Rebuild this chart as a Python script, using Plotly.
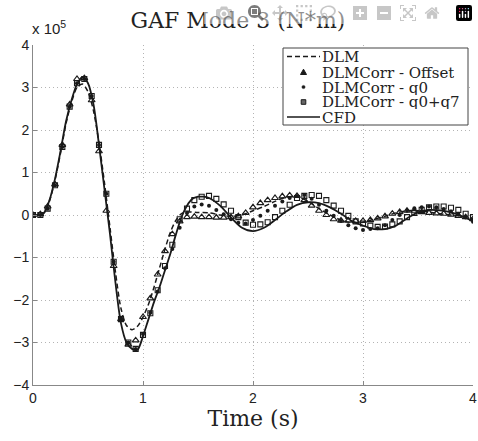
import plotly.graph_objects as go

# ---------------- data (values in units of 1e5 N*m) ----------------
cfd_t = [0, 0.05, 0.1, 0.15, 0.2, 0.25, 0.3, 0.35, 0.4, 0.45, 0.5, 0.55, 0.6, 0.65, 0.7, 0.75, 0.8,
         0.85, 0.9, 0.95, 1.0, 1.05, 1.1, 1.15, 1.2, 1.25, 1.3, 1.35, 1.4, 1.45, 1.5, 1.55, 1.6, 1.7,
         1.8, 1.9, 2.0, 2.1, 2.2, 2.3, 2.4, 2.5, 2.6, 2.7, 2.8, 2.9, 3.0, 3.1, 3.2, 3.3, 3.4, 3.5,
         3.6, 3.7, 3.8, 3.9, 4.0]
cfd_e5 = [0, 0, 0.05, 0.35, 0.85, 1.5, 2.2, 2.7, 3.08, 3.25, 3.1, 2.6, 1.65, 0.6, -0.45, -1.6, -2.55,
          -3.0, -3.15, -3.17, -2.85, -2.45, -2.05, -1.7, -1.3, -0.9, -0.45, -0.05, 0.22, 0.38, 0.43,
          0.43, 0.4, 0.22, -0.06, -0.3, -0.38, -0.3, -0.12, 0.08, 0.24, 0.3, 0.28, 0.18, 0.03, -0.14,
          -0.25, -0.33, -0.33, -0.25, -0.08, 0.06, 0.12, 0.11, 0.06, -0.03, -0.15]

dlm_t = [0, 0.05, 0.1, 0.15, 0.2, 0.25, 0.3, 0.35, 0.4, 0.45, 0.5, 0.55, 0.6, 0.65, 0.7, 0.75, 0.8,
         0.85, 0.9, 0.95, 1.0, 1.05, 1.1, 1.15, 1.2, 1.25, 1.3, 1.35, 1.4, 1.5, 1.6, 1.7, 1.8, 1.9,
         2.0, 2.1, 2.2, 2.3, 2.4, 2.5, 2.6, 2.7, 2.8, 2.9, 3.0, 3.1, 3.2, 3.3, 3.4, 3.5, 3.6, 3.7,
         3.8, 3.9, 4.0]
dlm_e5 = [0, 0, 0.05, 0.33, 0.82, 1.45, 2.15, 2.65, 3.0, 3.08, 2.9, 2.45, 1.7, 0.75, -0.3, -1.35,
          -2.2, -2.6, -2.7, -2.62, -2.4, -2.1, -1.7, -1.25, -0.8, -0.4, -0.12, 0.03, 0.07, 0.06,
          0.05, 0.0, -0.03, 0.0, 0.1, 0.2, 0.32, 0.42, 0.43, 0.32, 0.15, 0.0, -0.12, -0.18, -0.17,
          -0.1, -0.03, 0.05, 0.1, 0.1, 0.07, 0.03, 0.0, -0.03, -0.08]

# marker samples (time step 1/15 s)
mk_t = [k / 15 for k in range(61)]
offset_e5 = [0.0, 0.02, 0.2, 0.72, 1.65, 2.6, 3.2, 3.22, 2.7, 1.5, 0.1, -1.2, -2.45, -3.05, -2.95,
             -2.4, -1.96, -1.4, -0.85, -0.45, -0.15, -0.05, -0.04, -0.05, -0.05, -0.06, -0.06,
             -0.05, -0.03, 0.05, 0.18, 0.28, 0.35, 0.4, 0.44, 0.46, 0.45, 0.35, 0.22, 0.1, 0.0,
             -0.1, -0.13, -0.13, -0.14, -0.14, -0.12, -0.08, -0.03, 0.03, 0.07, 0.1, 0.1, 0.07,
             0.05, 0.04, 0.03, 0.01, -0.02, -0.05, -0.1]
q0_e5 = [0.0, 0.0, 0.15, 0.7, 1.6, 2.55, 3.1, 3.2, 2.8, 1.65, 0.5, -1.1, -2.45, -3.0, -3.15, -2.8,
         -2.3, -1.8, -1.25, -0.8, -0.3, 0.05, 0.2, 0.25, 0.22, 0.12, 0.02, -0.1, -0.18, -0.2,
         -0.12, -0.02, 0.1, 0.22, 0.32, 0.4, 0.45, 0.47, 0.38, 0.24, 0.1, -0.02, -0.14, -0.24,
         -0.31, -0.35, -0.33, -0.31, -0.24, -0.12, 0.0, 0.1, 0.16, 0.18, 0.2, 0.18, 0.14, 0.08,
         0.02, -0.06, -0.16]
q0q7_e5 = [0.0, 0.0, 0.15, 0.7, 1.6, 2.55, 3.1, 3.2, 2.8, 1.65, 0.5, -1.1, -2.45, -3.0, -3.15, -2.82,
           -2.31, -1.77, -1.2, -0.7, -0.1, 0.15, 0.35, 0.43, 0.45, 0.38, 0.25, 0.1, -0.05, -0.18,
           -0.23, -0.22, -0.17, -0.05, 0.1, 0.24, 0.4, 0.45, 0.47, 0.45, 0.35, 0.22, 0.1, -0.02,
           -0.15, -0.2, -0.25, -0.28, -0.27, -0.22, -0.15, -0.05, 0.05, 0.12, 0.18, 0.2, 0.2, 0.17,
           0.12, 0.03, -0.05]

series_names = ["DLM", "DLMCorr - Offset", "DLMCorr - q0", "DLMCorr - q0+q7", "CFD"]
x_ticks = [0, 1, 2, 3, 4]
y_ticks = [-4, -3, -2, -1, 0, 1, 2, 3, 4]

# ---------------- figure ----------------
W, H = 478, 441
ML, MR, MT, MB = 33, 5, 45, 56
PW, PH = W - ML - MR, H - MT - MB
ink = "#1a1a1a"
serif = "DejaVu Serif, Liberation Serif, serif"
sans = "Liberation Sans, Arial, sans-serif"

fig = go.Figure()
fig.add_trace(go.Scatter(x=dlm_t, y=dlm_e5, mode="lines", name=series_names[0],
                         line=dict(color=ink, width=1.5, dash="5px,3px", shape="spline", smoothing=0.8)))
fig.add_trace(go.Scatter(x=mk_t, y=offset_e5, mode="markers", name=series_names[1],
                         marker=dict(symbol="triangle-up-open", size=6, color=ink, line=dict(width=1.2))))
fig.add_trace(go.Scatter(x=mk_t, y=q0_e5, mode="markers", name=series_names[2],
                         marker=dict(symbol="circle", size=4, color=ink)))
fig.add_trace(go.Scatter(x=mk_t, y=q0q7_e5, mode="markers", name=series_names[3],
                         marker=dict(symbol="square-open", size=5, color=ink, line=dict(width=1.1))))
fig.add_trace(go.Scatter(x=cfd_t, y=cfd_e5, mode="lines", name=series_names[4],
                         line=dict(color=ink, width=1.8, shape="spline", smoothing=0.8)))

axis_common = dict(
    showgrid=True, gridcolor="#b4b4b4", griddash="1px,3px", gridwidth=1,
    zeroline=False, showline=True, linecolor="#888888", linewidth=1,
    ticks="inside", ticklen=4, tickcolor="#888888", automargin=False,
    ticklabeloverflow="allow",
    tickfont=dict(family=sans, size=14, color="#222222"),
)

fig.update_layout(
    width=W, height=H,
    margin=dict(l=ML, r=MR, t=MT, b=MB, autoexpand=False),
    paper_bgcolor="white", plot_bgcolor="white",
    title=dict(text="GAF Mode 3 (N*m)", x=238 / W, xanchor="center",
               y=1 - 13 / H, yanchor="top",
               font=dict(family=serif, size=22, color="#222222")),
    xaxis=dict(range=[0, 4], tickvals=x_ticks,
               title=dict(text="Time (s)", standoff=0, font=dict(family=serif, size=22, color="#222222")),
               **axis_common),
    yaxis=dict(range=[-4, 4], tickvals=y_ticks, **axis_common),
    showlegend=False,
)

# exponent label
fig.add_annotation(text="x 10<sup>5</sup>", xref="paper", yref="paper", x=0.0, y=1.0,
                   xanchor="left", yanchor="bottom", showarrow=False, xshift=-3, yshift=6,
                   font=dict(family=sans, size=15, color="#222222"))

# ---------------- legend box (drawn like MATLAB's), positions in page pixels ----------------
def fx(px):
    return (px - ML) / PW

def fy(py):
    return (MT + PH - py) / PH

box_x0, box_x1, box_y0, box_y1 = 283, 468, 48, 125
fig.add_shape(type="rect", xref="paper", yref="paper", x0=fx(box_x0), x1=fx(box_x1),
              y0=fy(box_y1), y1=fy(box_y0), fillcolor="white", line=dict(color="#444444", width=1),
              layer="above")
rows = [56.5, 72, 87, 102, 117]
sym_a, sym_b, text_x = 287, 320, 321
sym_c = (sym_a + sym_b) / 2
fig.add_shape(type="line", xref="paper", yref="paper", x0=fx(sym_a), x1=fx(sym_b),
              y0=fy(rows[0]), y1=fy(rows[0]), line=dict(color=ink, width=1.5, dash="5px,3px"), layer="above")
fig.add_shape(type="line", xref="paper", yref="paper", x0=fx(sym_a), x1=fx(sym_b),
              y0=fy(rows[4]), y1=fy(rows[4]), line=dict(color=ink, width=1.6), layer="above")
fig.add_shape(type="path", xref="paper", yref="paper", xsizemode="pixel", ysizemode="pixel",
              xanchor=fx(sym_c), yanchor=fy(rows[1]), path="M -3,-2.5 L 3,-2.5 L 0,2.8 Z",
              fillcolor=ink, line=dict(color=ink, width=1), layer="above")
fig.add_shape(type="circle", xref="paper", yref="paper", xsizemode="pixel", ysizemode="pixel",
              xanchor=fx(sym_c), yanchor=fy(rows[2]), x0=-1.6, x1=1.6, y0=-1.6, y1=1.6,
              fillcolor=ink, line=dict(color=ink, width=0.5), layer="above")
fig.add_shape(type="rect", xref="paper", yref="paper", xsizemode="pixel", ysizemode="pixel",
              xanchor=fx(sym_c), yanchor=fy(rows[3]), x0=-2.3, x1=2.3, y0=-2.3, y1=2.3,
              fillcolor="#666666", line=dict(color=ink, width=1), layer="above")
for name, ry in zip(series_names, rows):
    fig.add_annotation(text=name, xref="paper", yref="paper", x=fx(text_x), y=fy(ry),
                       xanchor="left", yanchor="middle", showarrow=False, borderpad=0,
                       height=15, valign="middle",
                       font=dict(family=serif, size=15, color="#222222"))

# remove the browser's default 8px body margin so the figure fills the window exactly
fig.write_html("out.html",
               post_script="document.body.style.margin='0';document.body.style.overflow='hidden';")
